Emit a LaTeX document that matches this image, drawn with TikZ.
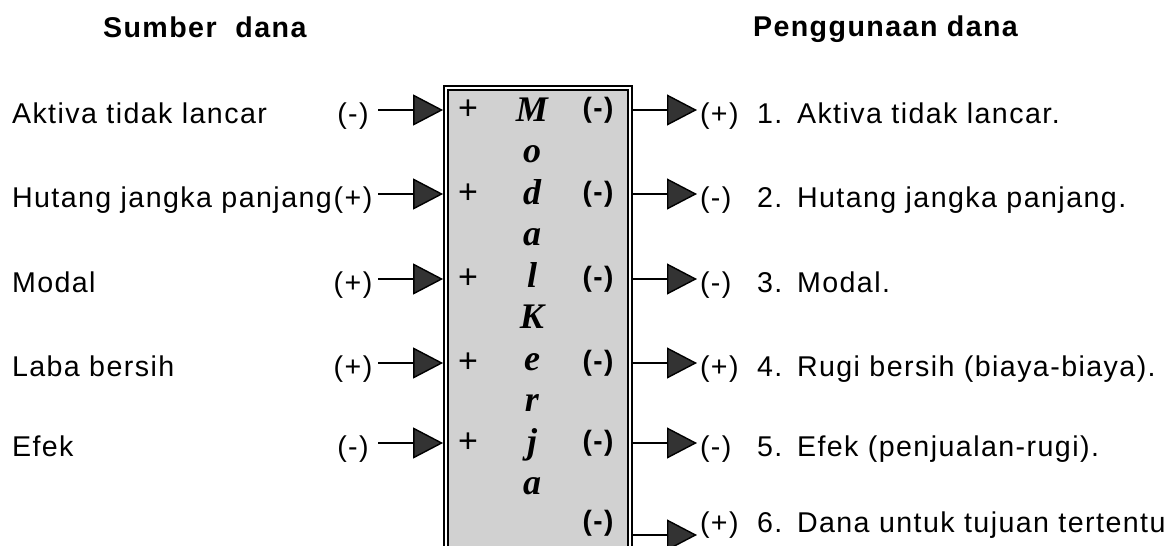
\documentclass[tikz,border=0pt]{standalone}
\usepackage{fontspec}
\setmainfont{Liberation Sans}[LetterSpace=5]
\newfontfamily\boxserif{Liberation Serif}
\usetikzlibrary{arrows.meta}

\begin{document}
\begin{tikzpicture}[x=0.5pt,y=-0.5pt,
  every node/.style={inner sep=0pt, outer sep=0pt, font=\fontsize{14.3}{16}\selectfont},
  lbl/.style={anchor=base west},
  sign/.style={anchor=base},
  head/.style={anchor=base west, font=\fontsize{14.3}{16}\selectfont\bfseries},
  letter/.style={anchor=base, font=\boxserif\bfseries\itshape\fontsize{18}{20}\selectfont},
  inbox/.style={anchor=center},
  plussign/.style={anchor=center, font=\fontsize{17}{18}\selectfont},
  minussign/.style={anchor=center, font=\fontsize{14}{16}\selectfont\bfseries},
  conn/.style={line width=0.7pt, -{Triangle[length=15pt,width=15.5pt,fill=black!80]}},
  frame/.style={draw, line width=0.9pt, double=white, double distance=1.1pt,
    fill=black!18, outer sep=1.45pt}]
\useasboundingbox (0,0) rectangle (1169,546);
\clip (0,0) rectangle (1169,546);

% column headings
\node[head] (hsrc) at (103,38) {Sumber\ \ dana};
\node[head] (huse) at (753,37) {Penggunaan dana};

% central box, open at the bottom edge
\node[frame, minimum width=92pt, minimum height=266pt] (box) at (538,354) {};

% the word written downwards inside the box
\foreach \ch [count=\i] in {M,o,d,a,l,K,e,r,j,a}
  \node[letter] (ch\i) at (532,{121+41.5*(\i-1)}) {\ch};

% sources of funds (left)
\foreach \y/\txt/\sg [count=\i] in {
    110/Aktiva tidak lancar/(-),
    194/Hutang jangka panjang/(+),
    279/Modal/(+),
    363/Laba bersih/(+),
    443/Efek/(-)} {
  \node[lbl] (src\i) at (12,\y+13) {\txt};
  \node[sign] (ssg\i) at (353,\y+13) {\sg};
  \node[plussign] (plus\i) at (468,\y) {+};
  \coordinate (ls\i) at (378,\y);
  \draw[conn] (ls\i) -- (box.west |- ls\i);
}

% uses of funds (right)
\foreach \y/\tb/\sg/\num/\txt [count=\i] in {
    110/123/(+)/1./Aktiva tidak lancar.,
    194/207/(-)/2./Hutang jangka panjang.,
    279/292/(-)/3./Modal.,
    363/376/(+)/4./Rugi bersih (biaya-biaya).,
    443/456/(-)/5./Efek (penjualan-rugi).,
    535/532/(+)/6./Dana untuk tujuan tertentu} {
  \node[minussign] (minus\i) at (598,{min(\y,523)}) {(-)};
  \coordinate (re\i) at (697,\y);
  \draw[conn] (box.east |- re\i) -- (re\i);
  \node[lbl] (usg\i) at (700,\tb) {\sg};
  \node[lbl] (unum\i) at (757,\tb) {\num};
  \node[lbl] (use\i) at (797,\tb) {\txt};
}
\end{tikzpicture}
\end{document}
